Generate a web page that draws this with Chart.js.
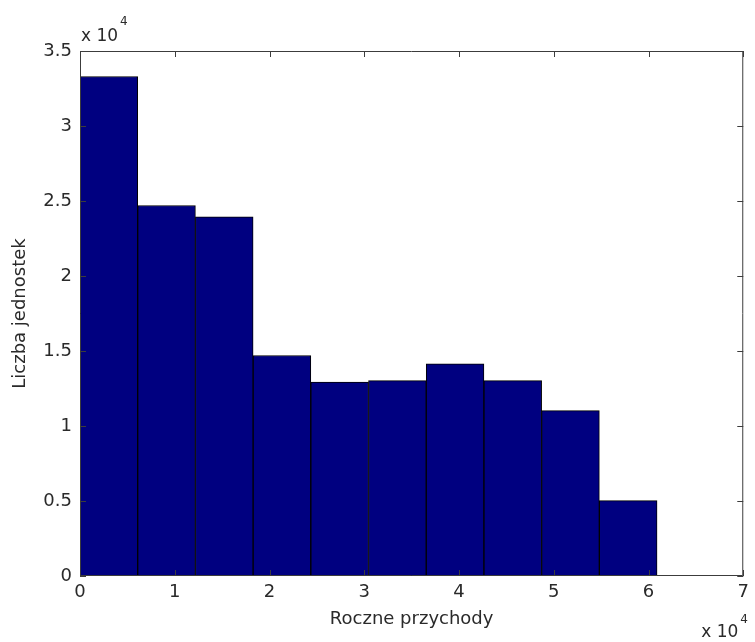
<!DOCTYPE html>
<html>
<head>
<meta charset="utf-8">
<script src="https://cdn.jsdelivr.net/npm/chart.js@4/dist/chart.umd.min.js"></script>
<style>
  html, body { margin: 0; padding: 0; background: #ffffff; }
  #wrap { width: 755px; height: 642px; }
</style>
</head>
<body>
<div id="wrap"><canvas id="c" width="755" height="642"></canvas></div>
<script>
// Histogram bins (centres of 10 equal-width bins, units: revenue)
const binCenters = [3045, 9135, 15225, 21315, 27405, 33495, 39585, 45675, 51765, 57855];
// Counts per bin
const counts = [33300, 24700, 23950, 14700, 12930, 13020, 14150, 13020, 11020, 5020];
const xTickValues = [0, 10000, 20000, 30000, 40000, 50000, 60000, 70000];
const yTickValues = [0, 5000, 10000, 15000, 20000, 25000, 30000, 35000];
const xLabel = 'Roczne przychody';
const yLabel = 'Liczba jednostek';
const exponentBase = 'x 10';
const exponentPow = '4';

const FONT = 'DejaVu Sans';
const TXT = '#2a2a2a';
const AXC = '#3c3c3c';

const boxPlugin = {
  id: 'matlabBox',
  afterDatasetsDraw(chart) {
    const {ctx, chartArea: a, scales: {x, y}} = chart;
    ctx.save();
    ctx.strokeStyle = AXC;
    ctx.lineWidth = 1;
    ctx.beginPath();
    ctx.rect(a.left + 0.5, a.top + 0.5, a.right - a.left - 1, a.bottom - a.top - 1);
    ctx.stroke();
    const tl = 6;
    ctx.beginPath();
    xTickValues.forEach(v => {
      const px = Math.round(x.getPixelForValue(v)) + 0.5;
      ctx.moveTo(px, a.bottom); ctx.lineTo(px, a.bottom - tl);
      ctx.moveTo(px, a.top); ctx.lineTo(px, a.top + tl);
    });
    yTickValues.forEach(v => {
      const py = Math.round(y.getPixelForValue(v)) + 0.5;
      ctx.moveTo(a.left, py); ctx.lineTo(a.left + tl, py);
      ctx.moveTo(a.right, py); ctx.lineTo(a.right - tl, py);
    });
    ctx.stroke();
    // exponent labels
    ctx.fillStyle = TXT;
    ctx.textBaseline = 'alphabetic';
    ctx.textAlign = 'left';
    ctx.font = '17px "' + FONT + '"';
    ctx.fillText(exponentBase, a.left + 1, a.top - 10);
    const w1 = ctx.measureText(exponentBase).width;
    ctx.font = '12px "' + FONT + '"';
    ctx.fillText(exponentPow, a.left + 1 + w1 + 2, a.top - 26);
    ctx.font = '17px "' + FONT + '"';
    ctx.fillText(exponentBase, a.right - 42, a.bottom + 61);
    const w2 = ctx.measureText(exponentBase).width;
    ctx.font = '12px "' + FONT + '"';
    ctx.fillText(exponentPow, a.right - 42 + w2 + 2, a.bottom + 47);
    ctx.restore();
  }
};

new Chart(document.getElementById('c'), {
  type: 'bar',
  data: {
    datasets: [{
      data: binCenters.map((c, i) => ({x: c, y: counts[i]})),
      backgroundColor: '#000080',
      borderColor: '#000000',
      borderWidth: 1,
      barPercentage: 1,
      categoryPercentage: 1
    }]
  },
  options: {
    responsive: false,
    animation: false,
    layout: { padding: { top: 51, right: 7, left: 0, bottom: 0 } },
    plugins: { legend: { display: false }, tooltip: { enabled: false } },
    scales: {
      x: {
        type: 'linear',
        min: 0, max: 70000,
        offset: false,
        grid: { display: false, drawTicks: false, offset: false },
        border: { display: false },
        afterBuildTicks: s => { s.ticks = xTickValues.map(v => ({value: v})); },
        afterFit: s => { s.height = 66; },
        ticks: {
          padding: 6,
          color: TXT,
          font: { family: FONT, size: 18 },
          maxRotation: 0,
          autoSkip: false,
          callback: v => String(v / 10000)
        },
        title: {
          display: true,
          text: xLabel,
          color: TXT,
          font: { family: FONT, size: 18 },
          padding: { top: 0, bottom: 12 }
        }
      },
      y: {
        type: 'linear',
        min: 0, max: 35000,
        grid: { display: false, drawTicks: false },
        border: { display: false },
        afterBuildTicks: s => { s.ticks = yTickValues.map(v => ({value: v})); },
        afterFit: s => { s.width = 80; },
        ticks: {
          padding: 8,
          color: TXT,
          font: { family: FONT, size: 18 },
          autoSkip: false,
          callback: v => String(v / 10000)
        },
        title: {
          display: true,
          text: yLabel,
          color: TXT,
          font: { family: FONT, size: 18 },
          padding: { top: 10, bottom: 0 }
        }
      }
    }
  },
  plugins: [boxPlugin]
});
</script>
</body>
</html>
